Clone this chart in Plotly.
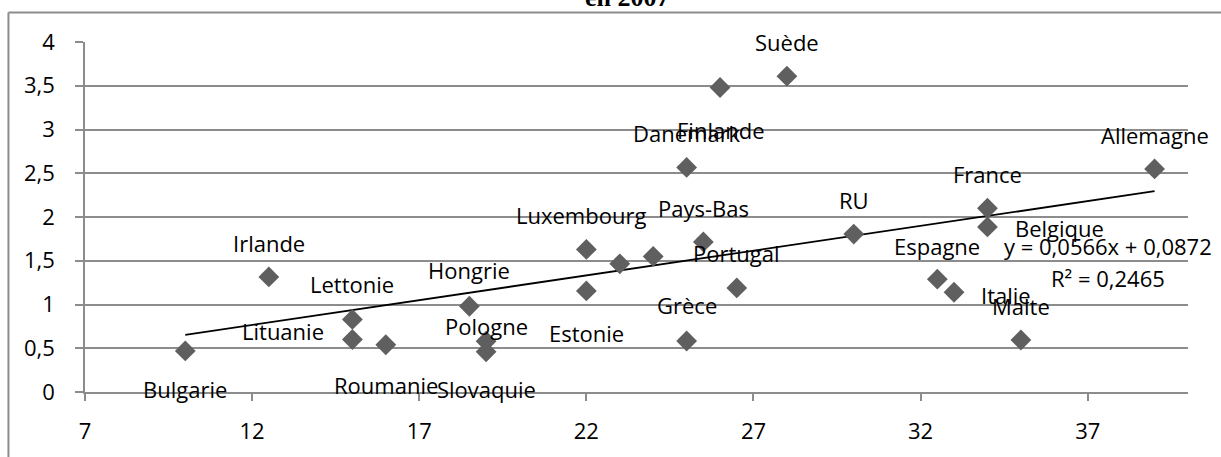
import plotly.graph_objects as go

# Données
pays = ['Bulgarie', 'Irlande', 'Lettonie', 'Lituanie', 'Roumanie', 'Hongrie',
        'Pologne', 'Slovaquie', 'Luxembourg', 'Estonie', '', '', 'Pays-Bas',
        'Portugal', 'Grèce', 'RU', 'Belgique', 'Espagne', 'Italie', 'Malte',
        'Finlande', 'Suède', 'Danemark', 'France', 'Allemagne']
x_vals = [10, 12.5, 15, 15, 16, 18.5, 19, 19, 22, 22, 23, 24, 25.5,
          26.5, 25, 30, 34, 32.5, 33, 35, 26, 28, 25, 34, 39]
y_vals = [0.47, 1.315, 0.83, 0.6, 0.54, 0.98, 0.58, 0.46, 1.63, 1.155, 1.465, 1.55, 1.715,
          1.19, 0.583, 1.805, 1.887, 1.29, 1.14, 0.594, 3.48, 3.61, 2.567, 2.10, 2.55]

# courbe de tendance linéaire (affichée par Excel)
pente = 0.0566
ordonnee = 0.0872
r2 = 0.2465

x_ticks = [7, 12, 17, 22, 27, 32, 37]
y_ticks = [0, 0.5, 1, 1.5, 2, 2.5, 3, 3.5, 4]

# position des étiquettes (décalage en pixels par rapport au point)
decalage = {
    'Bulgarie': (0, -38), 'Irlande': (0, 34), 'Lettonie': (0, 35),
    'Lituanie': (-69, 9), 'Roumanie': (0, -40), 'Hongrie': (0, 36),
    'Pologne': (0, 15), 'Slovaquie': (0, -37), 'Luxembourg': (-5, 34),
    'Estonie': (0, -42), 'Pays-Bas': (0, 34), 'Portugal': (0, 35),
    'Grèce': (0, 36), 'RU': (0, 34), 'Belgique': (72, -1),
    'Espagne': (0, 33), 'Italie': (52, -3), 'Malte': (0, 34),
    'Finlande': (0, -42), 'Suède': (0, 34), 'Danemark': (0, 34),
    'France': (0, 34), 'Allemagne': (0, 34),
}

police = 'Open Sans'
gris = '#8c8c8c'

fig = go.Figure()

x_min, x_max = min(x_vals), max(x_vals)
fig.add_trace(go.Scatter(
    x=[x_min, x_max], y=[pente * x_min + ordonnee, pente * x_max + ordonnee],
    mode='lines', line=dict(color='black', width=1.8), hoverinfo='skip'))

fig.add_trace(go.Scatter(
    x=x_vals, y=y_vals, mode='markers', text=pays,
    marker=dict(symbol='diamond', size=16, color='#5f5f5f')))

annotations = []
for nom, xv, yv in zip(pays, x_vals, y_vals):
    if not nom:
        continue
    dx, dy = decalage[nom]
    annotations.append(dict(x=xv, y=yv, xref='x', yref='y', text=nom, showarrow=False,
                            xshift=dx, yshift=dy, font=dict(family=police, size=22, color='black')))

annotations.append(dict(x=37.6, y=1.67, xref='x', yref='y', showarrow=False,
                        text='y = ' + f'{pente:.4f}'.replace('.', ',') + 'x + ' + f'{ordonnee:.4f}'.replace('.', ','),
                        font=dict(family=police, size=22, color='black')))
annotations.append(dict(x=37.6, y=1.30, xref='x', yref='y', showarrow=False,
                        text='R² = ' + f'{r2:.4f}'.replace('.', ','),
                        font=dict(family=police, size=22, color='black')))

# titre (coupé en haut de l'image)
annotations.append(dict(x=0.4918, y=1.126, xref='paper', yref='paper', showarrow=False,
                        text='<b>en 2007</b>', yanchor='middle',
                        font=dict(family='Liberation Serif', size=26, color='black')))

# cadre du graphique
shapes = [
    dict(type='line', xref='paper', yref='paper', x0=-0.0694, x1=1.05, y0=1.0846, y1=1.0846,
         line=dict(color=gris, width=2)),
    dict(type='line', xref='paper', yref='paper', x0=-0.0694, x1=-0.0694, y0=1.0846, y1=-0.2,
         line=dict(color=gris, width=2)),
]

fig.update_layout(
    width=1221, height=457,
    margin=dict(l=85, r=33, t=42, b=58),
    paper_bgcolor='white', plot_bgcolor='white',
    showlegend=False,
    separators=', ',
    annotations=annotations,
    shapes=shapes,
    font=dict(family=police, size=22, color='black'),
)

fig.update_xaxes(
    range=[7, 40], tickvals=x_ticks, showgrid=False, zeroline=False,
    showline=True, linecolor=gris, linewidth=1.5,
    ticks='outside', ticklen=7, tickcolor=gris, tickwidth=1.5,
    ticklabelstandoff=12, tickfont=dict(family=police, size=22, color='black'))

fig.update_yaxes(
    range=[0, 4], tickvals=y_ticks, showgrid=True, gridcolor=gris, gridwidth=1.5,
    zeroline=False, showline=True, linecolor=gris, linewidth=1.5,
    ticks='outside', ticklen=8, tickcolor=gris, tickwidth=1.5,
    ticklabelstandoff=16, tickfont=dict(family=police, size=22, color='black'))

fig.write_html("out.html", config={'displayModeBar': False},
               post_script="document.body.style.margin='0';")
